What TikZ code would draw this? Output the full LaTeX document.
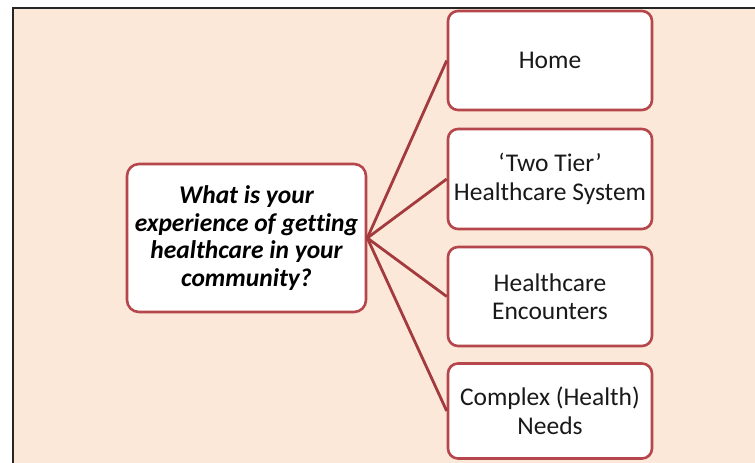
\documentclass[tikz,border=0pt]{standalone}
\usepackage{fontspec}
\setmainfont[Ligatures=NoCommon]{Carlito}
\definecolor{peach}{HTML}{FCE8D9}
\definecolor{boxred}{HTML}{B5464B}
\definecolor{linered}{HTML}{A23A3E}
\begin{document}
\begin{tikzpicture}[x=1pt,y=-1pt,
  rbox/.style={draw=boxred, line width=2.6pt, fill=white, rounded corners=10pt,
    minimum width=204pt, align=center, inner sep=0pt, font=\fontsize{25.5}{28.5}\selectfont, text=black!90},
  cbox/.style={draw=boxred, line width=2.6pt, fill=white, rounded corners=12pt,
    minimum width=239pt, minimum height=148pt, align=center, inner sep=0pt,
    font=\fontsize{25.5}{27.5}\selectfont\bfseries\itshape, text=black},
  conn/.style={draw=linered, line width=2.8pt}]
\useasboundingbox (0,0) rectangle (755,463);
\fill[white] (0,0) rectangle (755,463);
\fill[peach] (13,8) rectangle (755,463);
\draw[black!85, line width=1.4pt] (13,463) -- (13,8) -- (755,8);
\node[cbox] (q) at (246.5,238) {What is your\\experience of getting\\healthcare in your\\community?};
\node[rbox, minimum height=99pt] (home) at (550,60.5) {Home};
\node[rbox, minimum height=100pt] (two) at (550,179) {‘Two Tier’\\Healthcare System};
\node[rbox, minimum height=99pt] (enc) at (550,296.5) {Healthcare\\Encounters};
\node[rbox, minimum height=95pt] (cx) at (550,411) {Complex (Health)\\Needs};
\draw[conn] (q.east) -- (home.west);
\draw[conn] (q.east) -- (two.west);
\draw[conn] (q.east) -- (enc.west);
\draw[conn] (q.east) -- (cx.west);
\end{tikzpicture}
\end{document}
